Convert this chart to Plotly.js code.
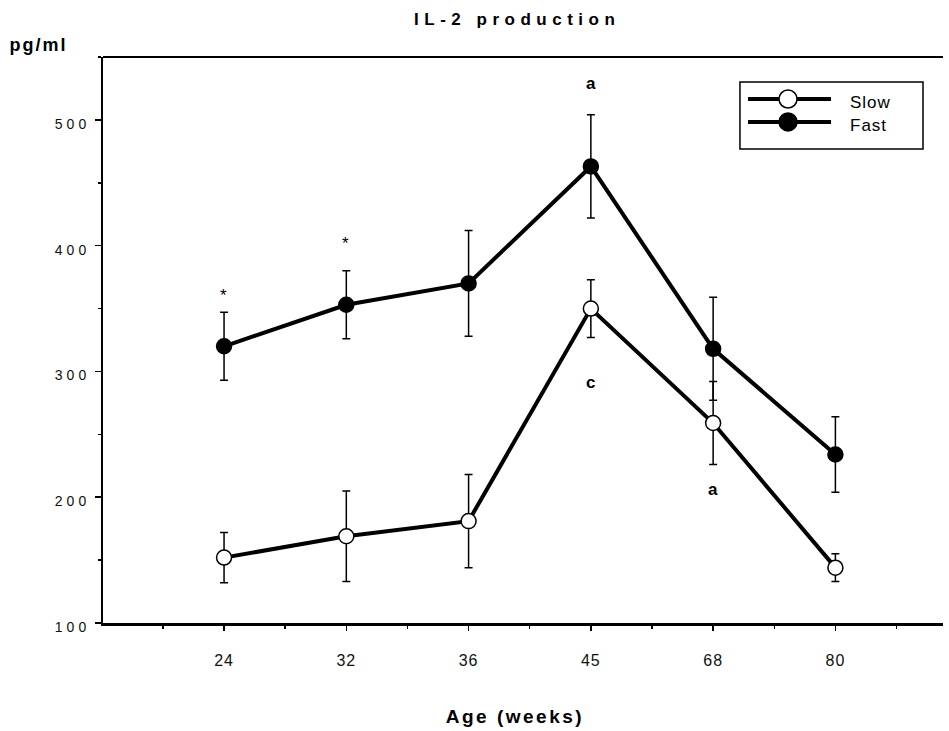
<!DOCTYPE html>
<html>
<head>
<meta charset="utf-8">
<script src="https://cdn.plot.ly/plotly-3.0.1.min.js"></script>
<style>
  body { margin: 0; background: #fff; }
  #chart { width: 949px; height: 731px; }
  .gtitle { letter-spacing: 5.5px; }
  .xtick text { letter-spacing: 1px; }
  .ytick text { letter-spacing: 4px; }
  .annotation-text { letter-spacing: 1px; }
  .annotation[data-index="0"] .annotation-text { letter-spacing: 2px; }
  .annotation[data-index="1"] .annotation-text { letter-spacing: 2.5px; }
</style>
</head>
<body>
<div id="chart"></div>
<script>
// Age (weeks) categories
const categories = ['24', '32', '36', '45', '68', '80'];
// IL-2 production (pg/ml)
const slowValues = [152, 169, 181, 350, 259, 144];
const slowErrors = [20, 36, 37, 23, 33, 11];
const fastValues = [320, 353, 370, 463, 318, 234];
const fastErrors = [27, 27, 42, 41, 41, 30];
const yTickVals = [100, 200, 300, 400, 500];
const seriesNames = ['Slow', 'Fast'];

const xIdx = categories.map((c, i) => i);
const font = 'Liberation Sans, Arial, sans-serif';

const slow = {
  x: xIdx, y: slowValues, name: seriesNames[0], type: 'scatter', mode: 'lines+markers',
  line: { color: '#000', width: 4 },
  marker: { symbol: 'circle', size: 15, color: '#fff', line: { color: '#000', width: 1.5 } },
  error_y: { type: 'data', array: slowErrors, visible: true, color: '#000', thickness: 1.5, width: 4 }
};
const fast = {
  x: xIdx, y: fastValues, name: seriesNames[1], type: 'scatter', mode: 'lines+markers',
  line: { color: '#000', width: 4 },
  marker: { symbol: 'circle', size: 15, color: '#000', line: { color: '#000', width: 1.5 } },
  error_y: { type: 'data', array: fastErrors, visible: true, color: '#000', thickness: 1.5, width: 4 }
};

const markText = (x, y, t, size) => ({
  x: x, y: y, xref: 'x', yref: 'y', text: t, showarrow: false,
  font: { family: font, size: size, color: '#000' }
});

// custom legend (paper coordinates of the plot area)
const legendShapes = [];
const legendAnn = [];
const legendBox = { x0: 0.7583, x1: 0.9762, y0: 0.8375, y1: 0.9558 };
legendShapes.push({ type: 'rect', xref: 'paper', yref: 'paper', ...legendBox,
  line: { color: '#000', width: 1.5 }, fillcolor: '#fff', layer: 'above' });
const legendRows = [0.9258, 0.8852];
const legendFill = ['#fff', '#000'];
legendRows.forEach((yy, i) => {
  legendShapes.push({ type: 'line', xref: 'paper', yref: 'paper', x0: 0.7679, x1: 0.8667, y0: yy, y1: yy,
    line: { color: '#000', width: 4 }, layer: 'above' });
  legendShapes.push({ type: 'circle', xref: 'paper', yref: 'paper', xsizemode: 'pixel', ysizemode: 'pixel',
    xanchor: 0.8155, yanchor: yy, x0: -9, x1: 9, y0: -9, y1: 9,
    line: { color: '#000', width: 1.5 }, fillcolor: legendFill[i], layer: 'above' });
  legendAnn.push({ xref: 'paper', yref: 'paper', x: 0.8869, y: yy - 0.006, xanchor: 'left', yanchor: 'middle',
    showarrow: false, text: seriesNames[i], font: { family: font, size: 17, color: '#000' } });
});

const layout = {
  width: 949, height: 731,
  margin: { l: 103, r: 6, t: 57, b: 108 },
  paper_bgcolor: '#fff', plot_bgcolor: '#fff',
  font: { family: font, color: '#111' },
  title: {
    text: '<b>IL-2 production</b>', font: { family: font, size: 17, color: '#000' },
    xref: 'container', x: 0.545, xanchor: 'center', yref: 'container', y: 0.974, yanchor: 'middle'
  },
  showlegend: false,
  xaxis: {
    range: [-0.99, 5.88], tickmode: 'array', tickvals: [-1].concat(xIdx), ticktext: [''].concat(categories),
    showgrid: false, zeroline: false, showline: true, linecolor: '#000', linewidth: 3,
    ticks: 'outside', ticklen: 5, tickwidth: 1.5, tickcolor: '#000',
    ticklabelstandoff: 16,
    tickfont: { family: font, size: 16, color: '#111' },
    minor: { tickmode: 'linear', tick0: -0.5, dtick: 1, ticks: 'outside', ticklen: 3, tickwidth: 1.5, tickcolor: '#000', showgrid: false }
  },
  yaxis: {
    range: [100, 550], tickmode: 'array', tickvals: yTickVals,
    showgrid: false, zeroline: false, showline: true, linecolor: '#000', linewidth: 2,
    ticks: 'outside', ticklen: 6, tickwidth: 1.5, tickcolor: '#000',
    ticklabelstandoff: 2, ticklabelshift: 4,
    tickfont: { family: font, size: 14, color: '#111' },
    minor: { tickmode: 'linear', tick0: 50, dtick: 100, ticks: 'outside', ticklen: 3, tickwidth: 1.5, tickcolor: '#000', showgrid: false }
  },
  shapes: [
    { type: 'line', xref: 'paper', yref: 'paper', x0: 0, x1: 1, y0: 1, y1: 1, line: { color: '#000', width: 2 } }
  ].concat(legendShapes),
  annotations: [
    { xref: 'paper', yref: 'paper', x: -0.111, y: 1.0, xanchor: 'left', yanchor: 'bottom', showarrow: false,
      text: '<b>pg/ml</b>', font: { family: font, size: 18, color: '#000' } },
    { xref: 'paper', yref: 'paper', x: 0.49, y: -0.165, xanchor: 'center', yanchor: 'middle', showarrow: false,
      text: '<b>Age (weeks)</b>', font: { family: font, size: 19, color: '#000' } },
    markText(0, 360, '*', 17),
    markText(1, 402, '*', 17),
    markText(3, 529, '<b>a</b>', 17),
    markText(3, 291, '<b>c</b>', 17),
    markText(4, 206, '<b>a</b>', 17)
  ].concat(legendAnn)
};

Plotly.newPlot('chart', [slow, fast], layout, { displayModeBar: false, staticPlot: true });
</script>
</body>
</html>
